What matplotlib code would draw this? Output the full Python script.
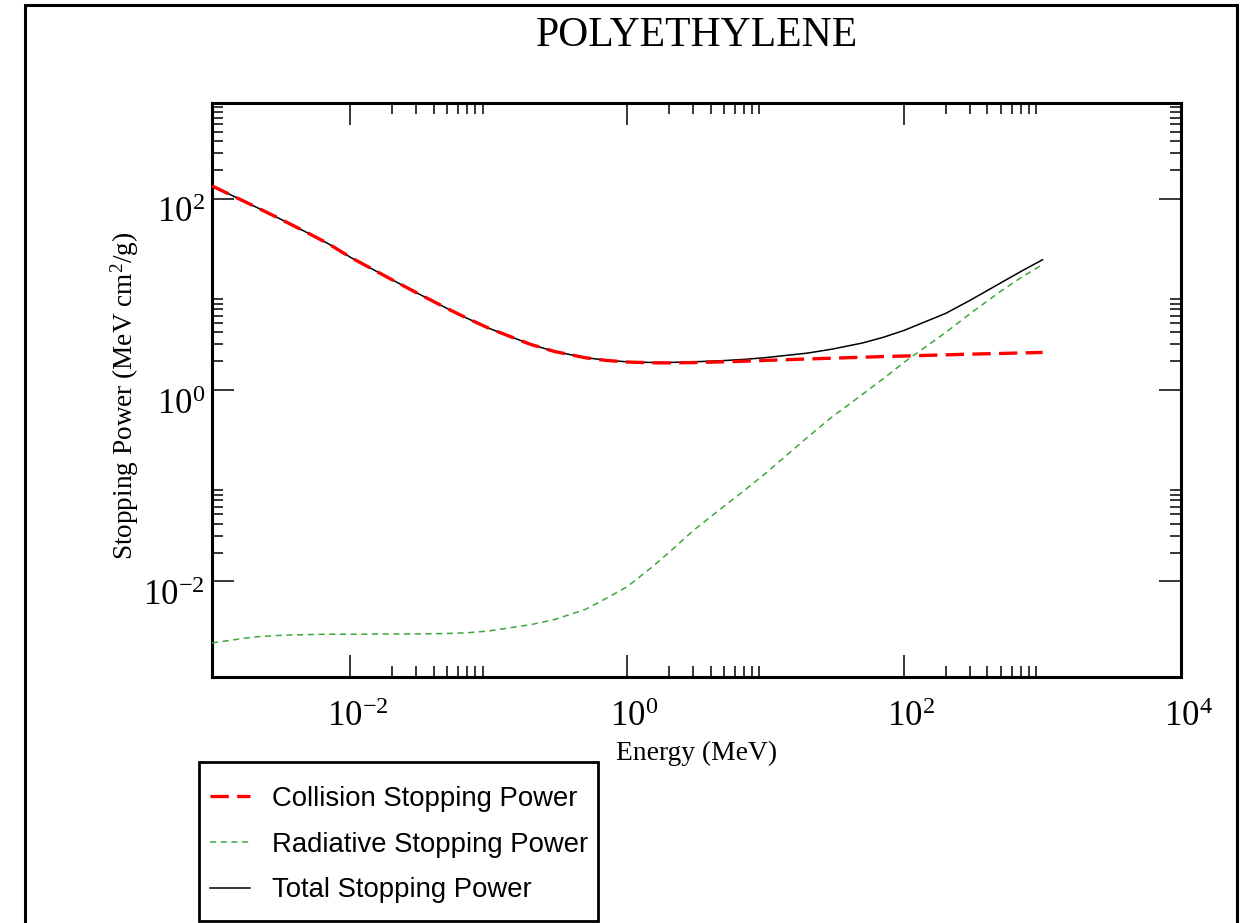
import matplotlib
matplotlib.use("Agg")
import matplotlib.pyplot as plt
import matplotlib.transforms as mtransforms
from matplotlib.ticker import FixedLocator, FixedFormatter, NullFormatter
from matplotlib.patches import Rectangle

# ---------------- data ----------------
energy = [0.001, 0.002, 0.003, 0.005, 0.007, 0.01, 0.02, 0.03, 0.05, 0.07,
          0.1, 0.2, 0.3, 0.5, 0.7, 1.0, 1.5, 2.0, 3.0, 5.0, 7.0, 10.0,
          20.0, 30.0, 50.0, 70.0, 100.0, 200.0, 300.0, 500.0, 700.0, 1000.0]
collision = [136.0, 84.0, 63.0, 43.3, 33.5, 24.4, 14.2, 10.4, 7.11, 5.60,
             4.42, 3.00, 2.52, 2.17, 2.04, 1.96, 1.925, 1.92, 1.935, 1.97, 2.00, 2.04,
             2.11, 2.15, 2.20, 2.235, 2.265, 2.33, 2.37, 2.41, 2.44, 2.47]
radiative = [0.00227, 0.00262, 0.00272, 0.00278, 0.0028, 0.0028, 0.00282, 0.00282, 0.00285, 0.0029,
             0.00303, 0.00352, 0.0040, 0.0051, 0.0066, 0.0088, 0.0140, 0.0200, 0.034, 0.061, 0.089, 0.135,
             0.32, 0.52, 0.90, 1.30, 1.95, 4.0, 6.3, 10.8, 15.0, 20.5]
total = [136.0, 84.0, 63.0, 43.3, 33.5, 24.4, 14.2, 10.4, 7.11, 5.60,
         4.42, 3.00, 2.52, 2.18, 2.05, 1.97, 1.94, 1.94, 1.97, 2.03, 2.09, 2.18,
         2.43, 2.67, 3.10, 3.54, 4.20, 6.33, 8.67, 13.2, 17.4, 23.0]

title_text = "POLYETHYLENE"
x_label = "Energy (MeV)"
y_label = r"Stopping Power (MeV cm$^{2}$/g)"
series_labels = ["Collision Stopping Power", "Radiative Stopping Power", "Total Stopping Power"]
x_major = [1e-2, 1e0, 1e2, 1e4]
x_major_labels = [r"$\mathregular{10^{-2}}$", r"$\mathregular{10^{0}}$",
                  r"$\mathregular{10^{2}}$", r"$\mathregular{10^{4}}$"]
y_major = [1e-2, 1e0, 1e2]
y_major_labels = [r"$\mathregular{10^{-2}}$", r"$\mathregular{10^{0}}$", r"$\mathregular{10^{2}}$"]
minor_mult = [2, 3, 4, 5, 6, 7, 8, 9]

# ---------------- style ----------------
plt.rcParams["mathtext.fontset"] = "custom"
plt.rcParams["mathtext.rm"] = "Liberation Serif"
plt.rcParams["mathtext.it"] = "Liberation Serif:italic"
plt.rcParams["mathtext.bf"] = "Liberation Serif:bold"
plt.rcParams["font.family"] = ["Liberation Serif", "DejaVu Serif"]

W, H = 1243, 923
fig = plt.figure(figsize=(W / 100, H / 100), dpi=100)
ax = fig.add_axes([212 / W, 1 - 677 / H, 969 / W, 574 / H])

ax.plot(energy, total, color="black", lw=1.1, label=series_labels[2], zorder=3)
ax.plot(energy, radiative, color="#3aa83a", lw=1.1, ls=(0, (4, 3)), label=series_labels[1], zorder=4)
ax.plot(energy, collision, color="#ff0000", lw=2.4, ls=(0, (5.5, 2.5)), label=series_labels[0], zorder=5)

ax.set_xscale("log")
ax.set_yscale("log")
ax.set_xlim(1e-3, 1e4)
ax.set_ylim(1e-3, 1e3)

x_minor = [m * d for d in x_major for m in minor_mult if m * d < 1e4]
y_minor = [m * d for d in y_major for m in minor_mult if m * d < 1e3]
ax.xaxis.set_major_locator(FixedLocator(x_major))
ax.xaxis.set_major_formatter(FixedFormatter(x_major_labels))
ax.xaxis.set_minor_locator(FixedLocator(x_minor))
ax.xaxis.set_minor_formatter(NullFormatter())
ax.yaxis.set_major_locator(FixedLocator(y_major))
ax.yaxis.set_major_formatter(FixedFormatter(y_major_labels))
ax.yaxis.set_minor_locator(FixedLocator(y_minor))
ax.yaxis.set_minor_formatter(NullFormatter())

ax.tick_params(which="both", direction="in", top=True, right=True, width=1.1, colors="black")
ax.tick_params(which="major", length=16)
ax.tick_params(which="minor", length=8)
ax.tick_params(axis="x", which="major", labelsize=25, pad=17)
ax.tick_params(axis="y", which="major", labelsize=25, pad=5)
for sp in ax.spines.values():
    sp.set_linewidth(2.2)

# shift y tick labels slightly downward and x tick labels a bit right, as in the reference
y_off = mtransforms.ScaledTranslation(0, -8 / 72, fig.dpi_scale_trans)
for lab in ax.get_yticklabels():
    lab.set_transform(lab.get_transform() + y_off)
x_off = mtransforms.ScaledTranslation(5 / 72, 0, fig.dpi_scale_trans)
for lab in ax.get_xticklabels():
    lab.set_transform(lab.get_transform() + x_off)

ax.set_xlabel(x_label, fontsize=19.8)
ax.xaxis.set_label_coords(0.5, -0.112)
ax.set_ylabel(y_label, fontsize=19.6)
ax.yaxis.set_label_coords(-0.073, 0.49)
ax.set_title(title_text, fontsize=30, pad=41)

handles, labels = ax.get_legend_handles_labels()
order = [2, 1, 0]
leg = fig.legend([handles[i] for i in order], [labels[i] for i in order],
                 loc="upper left", bbox_to_anchor=(210 / W, 1 - 786 / H),
                 prop={"family": "Liberation Sans", "size": 19.8},
                 frameon=False,
                 handlelength=1.45, handletextpad=0.8, borderpad=0,
                 labelspacing=0.715, borderaxespad=0)

# legend box and outer page border
fig.patches.append(Rectangle((199 / W, 1 - 921 / H), (598 - 199) / W, (921 - 762) / H,
                             transform=fig.transFigure, fill=False,
                             edgecolor="black", lw=2.0))
fig.patches.append(Rectangle((25 / W, -0.05), (1237 - 25) / W, 1.05 - 5 / H,
                             transform=fig.transFigure, fill=False,
                             edgecolor="black", lw=2.2))

fig.savefig("out.png", dpi=100)
